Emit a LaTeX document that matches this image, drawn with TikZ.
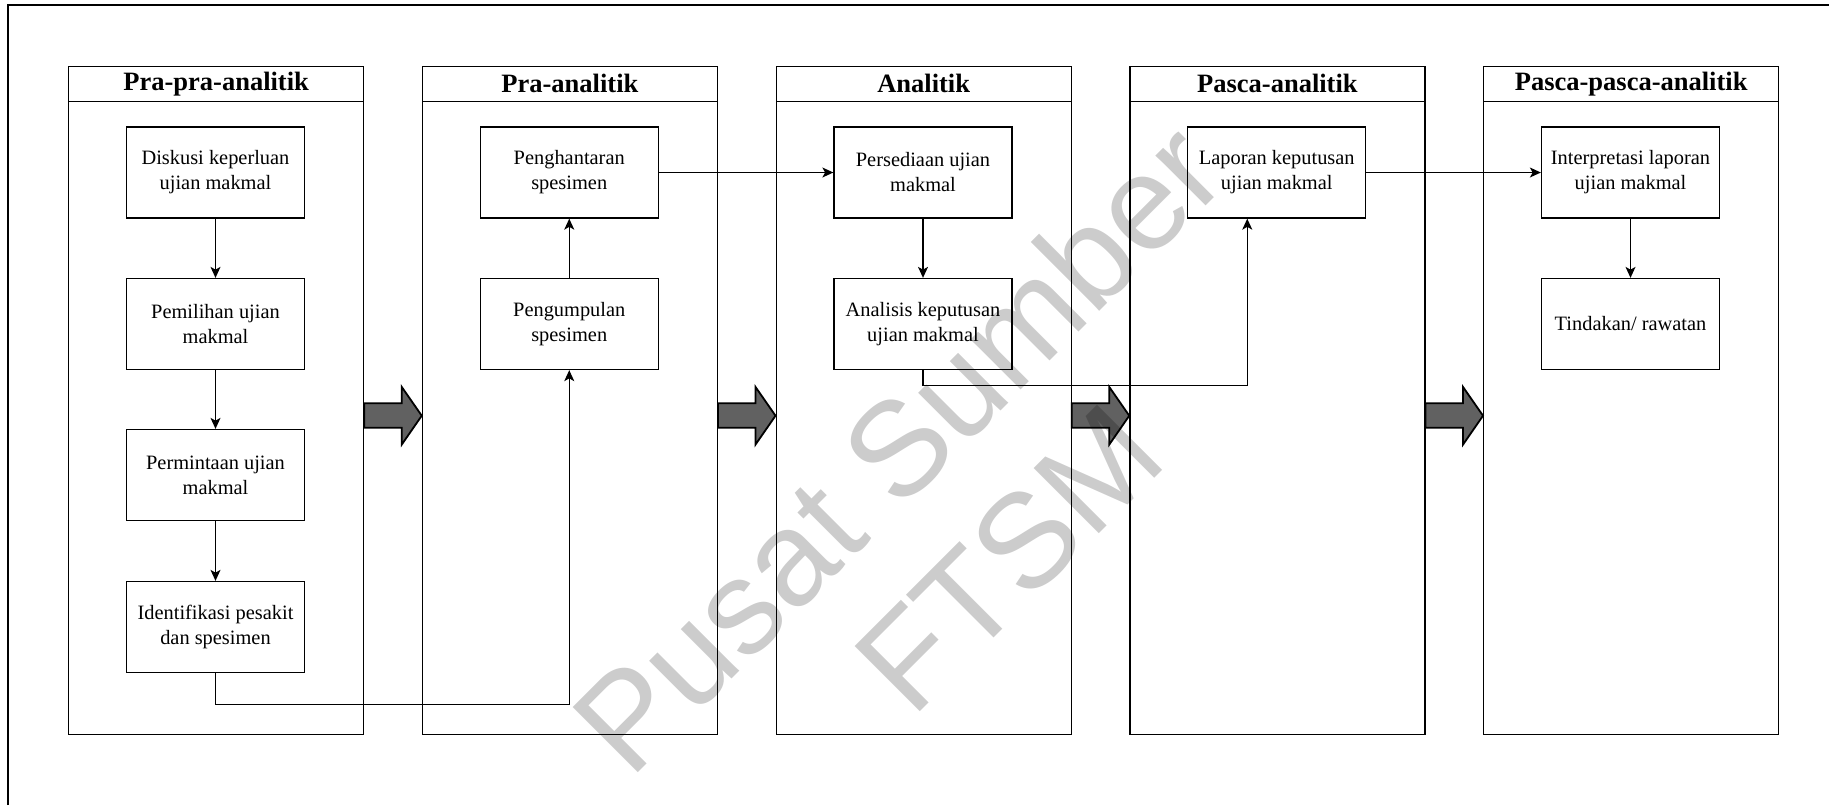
\documentclass[tikz,border=0pt]{standalone}
\usepackage{fontspec}
\setmainfont{Liberation Serif}
\newfontfamily\wmfont{Liberation Sans}
\usetikzlibrary{arrows.meta,calc}
\newcommand{\fatarr}[2]{%
  \draw[fatarrow] ($(#1.north east)+(0,337.3)$) -- ($(#1.north east)+(37.5,337.3)$)
    -- ($(#1.north east)+(37.5,321)$) -- ($(#2.north west)+(0,349.7)$)
    -- ($(#1.north east)+(37.5,378.5)$) -- ($(#1.north east)+(37.5,361.7)$)
    -- ($(#1.north east)+(0,361.7)$) -- cycle;}
\begin{document}
\begin{tikzpicture}[x=0.5pt,y=-0.5pt,
  lane/.style={draw, line width=0.65pt, minimum width=147.5pt, minimum height=334pt, inner sep=0pt, anchor=north west},
  lanehead/.style={draw, line width=0.65pt, minimum width=147.5pt, minimum height=17.25pt, inner sep=0pt, anchor=north west, font=\fontsize{13.25pt}{15pt}\selectfont\bfseries},
  stepbox/.style={draw, line width=0.65pt, minimum width=89pt, minimum height=45.5pt, inner sep=0pt, align=center, font=\fontsize{10.2pt}{12.5pt}\selectfont},
  conn/.style={-{Stealth[length=5.5pt,width=5pt,inset=1.4pt]}, line width=0.65pt},
  fatarrow/.style={fill=black!62, draw=black, line width=0.9pt, line join=miter},
  wm/.style={text=black, text opacity=0.2, font=\wmfont\fontsize{67pt}{78pt}\selectfont, align=center, rotate=45}
]
\useasboundingbox (0,0) rectangle (1829,805);
\draw[line width=0.7pt] (8,805) -- (8,5) -- (1829,5);

% lanes
\node[lane] (l1) at (68,66) {};
\node[lanehead] (h1) at (68,66) {Pra-pra-analitik};
\node[lane] (l2) at (421.75,66) {};
\node[lanehead] (h2) at (421.75,66) {Pra-analitik};
\node[lane] (l3) at (775.5,66) {};
\node[lanehead] (h3) at (775.5,66) {Analitik};
\node[lane] (l4) at (1129.25,66) {};
\node[lanehead] (h4) at (1129.25,66) {Pasca-analitik};
\node[lane] (l5) at (1483,66) {};
\node[lanehead] (h5) at (1483,66) {Pasca-pasca-analitik};

% steps
\node[stepbox] (b11) at (215.5,172.5) {Diskusi keperluan\\ujian makmal};
\node[stepbox] (b12) at (215.5,324) {Pemilihan ujian\\makmal};
\node[stepbox] (b13) at (215.5,475) {Permintaan ujian\\makmal};
\node[stepbox] (b14) at (215.5,627) {Identifikasi pesakit\\dan spesimen};
\node[stepbox] (b21) at (569.25,172.5) {Penghantaran\\spesimen};
\node[stepbox] (b22) at (569.25,324) {Pengumpulan\\spesimen};
\node[stepbox] (b31) at (923,172.5) {Persediaan ujian\\makmal};
\node[stepbox] (b32) at (923,324) {Analisis keputusan\\ujian makmal};
\node[stepbox] (b41) at (1276.75,172.5) {Laporan keputusan\\ujian makmal};
\node[stepbox] (b51) at (1630.5,172.5) {Interpretasi laporan\\ujian makmal};
\node[stepbox] (b52) at (1630.5,324) {Tindakan/ rawatan};

% connectors
\draw[conn] (b11) -- (b12);
\draw[conn] (b12) -- (b13);
\draw[conn] (b13) -- (b14);
\draw[conn] (b14.south) -- ++(0,31) -| (b22.south);
\draw[conn] (b22) -- (b21);
\draw[conn] (b21) -- (b31);
\draw[conn] (b31) -- (b32);
\draw[conn] (b32.south) -- ++(0,15.5) -| ($(b41.south)+(-29.5,0)$);
\draw[conn] (b41) -- (b51);
\draw[conn] (b51) -- (b52);

% phase arrows
\fatarr{l1}{l2}
\fatarr{l2}{l3}
\fatarr{l3}{l4}
\fatarr{l4}{l5}

% watermark
\node[wm] (wm) at (952,502) {Pusat Sumber\\FTSM};
\end{tikzpicture}
\end{document}
